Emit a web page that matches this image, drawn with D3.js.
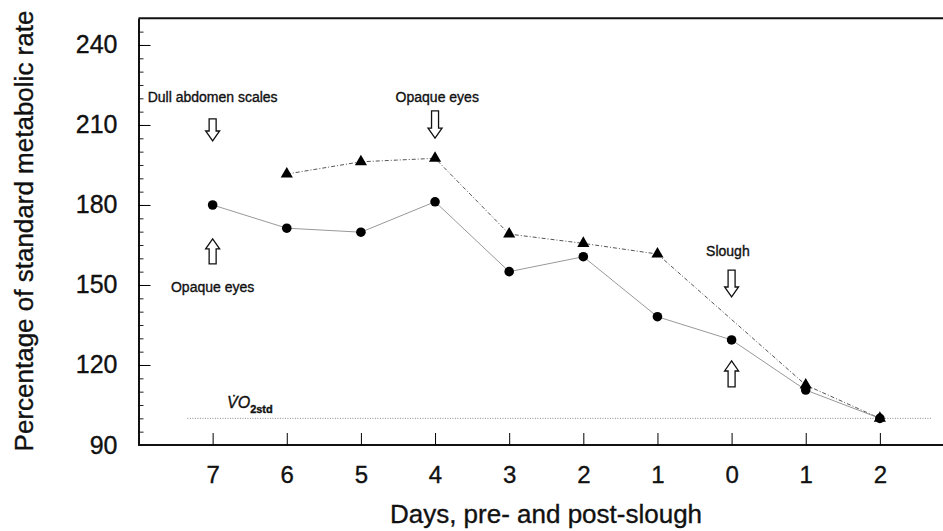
<!DOCTYPE html>
<html>
<head>
<meta charset="utf-8">
<script src="https://cdn.jsdelivr.net/npm/d3@7"></script>
<style>
  body { margin: 0; background: #fff; }
  svg { display: block; font-family: "Liberation Sans", Arial, sans-serif; }
  svg text { stroke: #111; stroke-width: 0.35px; }
</style>
</head>
<body>
<script>
var width = 943,
    height = 531;

// day labels along the x axis (pre-slough 7..0, then post-slough 1, 2)
var days = ["7", "6", "5", "4", "3", "2", "1", "0", "1", "2"];
// percentage of standard metabolic rate
var circleSeries = [180, 171.3, 169.8, 181.2, 155, 160.6, 138.1, 129.4, 110.6, 100];
var triangleSeries = [null, 191.6, 196.2, 197.5, 169.1, 165.6, 161.6, null, 112.5, 100];
var yMajor = [90, 120, 150, 180, 210, 240];
var yMinor = d3.range(90, 250, 5);
var vo2std = 100;

// annotations, in data units (day index, value)
var notes = [
  {text: "Dull abdomen scales", i: 0, v: 218.6},
  {text: "Opaque eyes", i: 0, v: 147.4},
  {text: "Opaque eyes", i: 3.03, v: 218.6},
  {text: "Slough", i: 6.95, v: 160.9}
];
var arrows = [
  {i: 0, from: 212.3, to: 204.0},
  {i: 0, from: 157.9, to: 167.3},
  {i: 3, from: 215.3, to: 205.1},
  {i: 7, from: 155.6, to: 145.5},
  {i: 7, from: 111.8, to: 121.5}
];

var svg = d3.select('body').append('svg')
    .attr('width', width)
    .attr('height', height);

var x = d3.scaleLinear().domain([-1, 10]).range([138.5, 954]);
var y = d3.scaleLinear().domain([90, 250]).range([445, 18.3]);

/* frame: top line only, right side runs off the page */
svg.append('line')
    .attr('x1', x(-1)).attr('x2', width)
    .attr('y1', y(250)).attr('y2', y(250))
    .attr('stroke', '#111').attr('stroke-width', 2);

// minor y ticks
svg.append('g')
    .attr('transform', 'translate(' + x(-1) + ',0)')
    .call(d3.axisLeft(y).tickValues(yMinor).tickSize(-5).tickFormat(''))
    .call(function(g) { g.select('.domain').remove(); })
    .selectAll('line').attr('stroke', '#222');

// major y ticks + labels
var yAxis = svg.append('g')
    .attr('transform', 'translate(' + x(-1) + ',0)')
    .call(d3.axisLeft(y).tickValues(yMajor).tickSize(-12).tickSizeOuter(0).tickPadding(21));
yAxis.select('.domain').attr('stroke', '#111').attr('stroke-width', 2);
yAxis.selectAll('text')
    .attr('font-size', 25)
    .attr('font-family', '"Liberation Sans", Arial, sans-serif')
    .attr('fill', '#111');

// x axis
var xAxis = svg.append('g')
    .attr('transform', 'translate(0,' + y(90) + ')')
    .call(d3.axisBottom(x).tickValues(d3.range(days.length)).tickSize(-12).tickSizeOuter(0)
        .tickPadding(21).tickFormat(function(d) { return days[d]; }));
xAxis.select('.domain')
    .attr('d', 'M' + x(-1) + ',0H' + width)
    .attr('stroke', '#111').attr('stroke-width', 2);
xAxis.selectAll('text')
    .attr('font-size', 24)
    .attr('font-family', '"Liberation Sans", Arial, sans-serif')
    .attr('fill', '#111');

// axis titles
svg.append('text')
    .attr('x', 546).attr('y', 523)
    .attr('text-anchor', 'middle')
    .attr('font-size', 26)
    .attr('fill', '#111')
    .text('Days, pre- and post-slough');

svg.append('text')
    .attr('transform', 'translate(33,231) rotate(-90)')
    .attr('text-anchor', 'middle')
    .attr('font-size', 26)
    .attr('fill', '#111')
    .text('Percentage of standard metabolic rate');

// standard metabolic rate line
svg.append('line')
    .attr('x1', x(-0.34)).attr('x2', x(9.7))
    .attr('y1', y(vo2std)).attr('y2', y(vo2std))
    .attr('stroke', '#888').attr('stroke-width', 1)
    .attr('stroke-dasharray', '1,1.5');

var vLabel = svg.append('text')
    .attr('x', 227).attr('y', y(103.9))
    .attr('fill', '#111');
vLabel.append('tspan')
    .attr('font-size', 16).attr('font-style', 'italic')
    .text('V\u0307O');
vLabel.append('tspan')
    .attr('font-size', 11).attr('font-weight', 'bold')
    .attr('dy', 5)
    .text('2std');

// series lines
var line = d3.line()
    .x(function(d) { return x(d.i); })
    .y(function(d) { return y(d.v); });

var circles = circleSeries.map(function(v, i) { return {i: i, v: v}; });
var triangles = triangleSeries.map(function(v, i) { return {i: i, v: v}; })
    .filter(function(d) { return d.v !== null; });

svg.append('path')
    .datum(triangles)
    .attr('d', line)
    .attr('fill', 'none')
    .attr('stroke', '#555')
    .attr('stroke-width', 1)
    .attr('stroke-dasharray', '4,2,1,2');

svg.append('path')
    .datum(circles)
    .attr('d', line)
    .attr('fill', 'none')
    .attr('stroke', '#999')
    .attr('stroke-width', 1);

svg.selectAll('.tri')
    .data(triangles)
    .enter().append('path')
    .attr('class', 'tri')
    .attr('transform', function(d) { return 'translate(' + x(d.i) + ',' + y(d.v) + ')'; })
    .attr('d', d3.symbol().type(d3.symbolTriangle).size(64))
    .attr('fill', '#000');

svg.selectAll('.dot')
    .data(circles)
    .enter().append('circle')
    .attr('class', 'dot')
    .attr('cx', function(d) { return x(d.i); })
    .attr('cy', function(d) { return y(d.v); })
    .attr('r', 4.8)
    .attr('fill', '#000');

// hollow block arrows
function arrowPath(d) {
  var cx = x(d.i), y0 = y(d.from), y1 = y(d.to);
  var dir = y1 > y0 ? 1 : -1;
  var head = 10 * dir, sw = 3.5, hw = 7;
  var yh = y1 - head;
  return 'M' + (cx - sw) + ',' + y0 +
    'L' + (cx - sw) + ',' + yh +
    'L' + (cx - hw) + ',' + yh +
    'L' + cx + ',' + y1 +
    'L' + (cx + hw) + ',' + yh +
    'L' + (cx + sw) + ',' + yh +
    'L' + (cx + sw) + ',' + y0 + 'Z';
}

svg.selectAll('.arrow')
    .data(arrows)
    .enter().append('path')
    .attr('class', 'arrow')
    .attr('d', arrowPath)
    .attr('fill', '#fff')
    .attr('stroke', '#111')
    .attr('stroke-width', 1.3);

svg.selectAll('.note')
    .data(notes)
    .enter().append('text')
    .attr('class', 'note')
    .attr('x', function(d) { return x(d.i); })
    .attr('y', function(d) { return y(d.v); })
    .attr('text-anchor', 'middle')
    .attr('font-size', 14)
    .attr('fill', '#111')
    .text(function(d) { return d.text; });
</script>
</body>
</html>
